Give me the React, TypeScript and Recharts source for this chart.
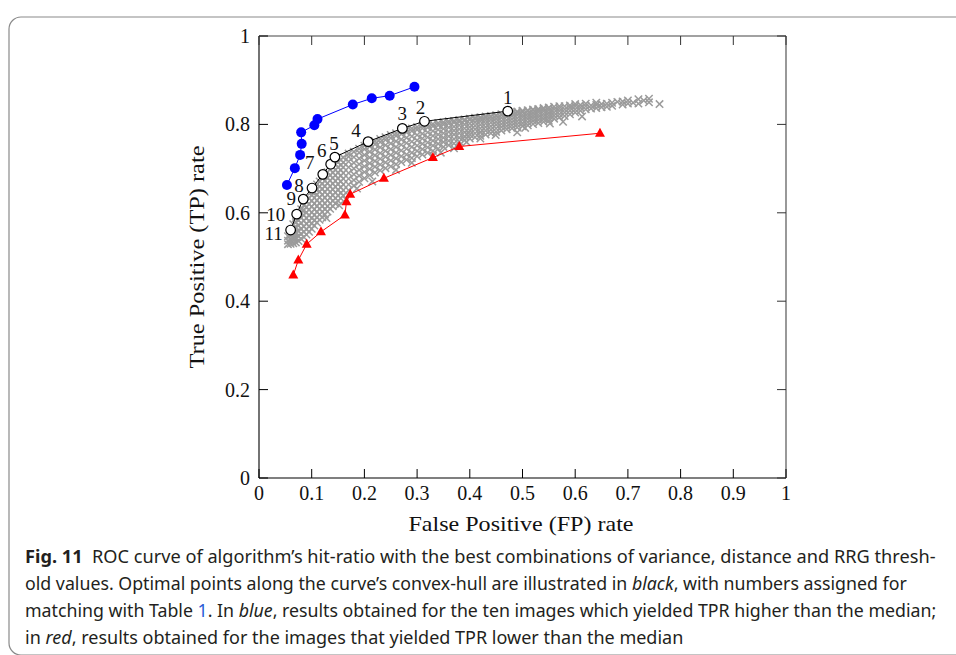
import React, { useLayoutEffect, useRef, useState } from 'react';
import { ScatterChart, Scatter, XAxis, YAxis } from 'recharts';

const xTicks = [0, 0.1, 0.2, 0.3, 0.4, 0.5, 0.6, 0.7, 0.8, 0.9, 1];
const xTickLabels = ['0', '0.1', '0.2', '0.3', '0.4', '0.5', '0.6', '0.7', '0.8', '0.9', '1'];
const yTicks = [0, 0.2, 0.4, 0.6, 0.8, 1];
const yTickLabels = ['0', '0.2', '0.4', '0.6', '0.8', '1'];

const xTitle = 'False Positive (FP) rate';
const yTitle = 'True Positive (TP) rate';

// blue: images with TPR higher than median
const bluePoints = [
  { x: 0.053, y: 0.663 },
  { x: 0.068, y: 0.701 },
  { x: 0.078, y: 0.731 },
  { x: 0.081, y: 0.756 },
  { x: 0.080, y: 0.782 },
  { x: 0.105, y: 0.798 },
  { x: 0.111, y: 0.812 },
  { x: 0.178, y: 0.845 },
  { x: 0.214, y: 0.859 },
  { x: 0.248, y: 0.865 },
  { x: 0.295, y: 0.885 },
];

// black: optimal points along convex hull
const blackPoints = [
  { x: 0.060, y: 0.561, label: '11' },
  { x: 0.0715, y: 0.597, label: '10' },
  { x: 0.084, y: 0.631, label: '9' },
  { x: 0.1006, y: 0.656, label: '8' },
  { x: 0.121, y: 0.687, label: '7' },
  { x: 0.136, y: 0.710, label: '6' },
  { x: 0.144, y: 0.726, label: '5' },
  { x: 0.207, y: 0.761, label: '4' },
  { x: 0.272, y: 0.791, label: '3' },
  { x: 0.314, y: 0.807, label: '2' },
  { x: 0.472, y: 0.830, label: '1' },
];

// red: images with TPR lower than median
const redPoints = [
  { x: 0.065, y: 0.459 },
  { x: 0.0746, y: 0.493 },
  { x: 0.0905, y: 0.529 },
  { x: 0.1176, y: 0.557 },
  { x: 0.163, y: 0.595 },
  { x: 0.166, y: 0.625 },
  { x: 0.173, y: 0.642 },
  { x: 0.237, y: 0.678 },
  { x: 0.330, y: 0.725 },
  { x: 0.380, y: 0.750 },
  { x: 0.647, y: 0.780 },
];

// gray: all parameter combinations, listed as columns [FPR, [TPR...]]
const grayColumns: [number, number[]][] = [
  [0.055, [0.529, 0.537, 0.547]],
  [0.060, [0.530, 0.539, 0.550, 0.560]],
  [0.065, [0.531, 0.542, 0.553, 0.564, 0.574]],
  [0.070, [0.533, 0.544, 0.556, 0.567, 0.579, 0.588]],
  [0.075, [0.536, 0.547, 0.559, 0.571, 0.583, 0.596]],
  [0.080, [0.541, 0.552, 0.564, 0.577, 0.589, 0.600, 0.608]],
  [0.085, [0.545, 0.557, 0.569, 0.582, 0.595, 0.606, 0.617]],
  [0.090, [0.551, 0.563, 0.575, 0.588, 0.601, 0.613, 0.626]],
  [0.095, [0.557, 0.569, 0.581, 0.594, 0.607, 0.620, 0.633]],
  [0.100, [0.564, 0.576, 0.588, 0.601, 0.614, 0.627, 0.640, 0.648]],
  [0.105, [0.571, 0.583, 0.595, 0.608, 0.621, 0.634, 0.646, 0.656]],
  [0.110, [0.578, 0.590, 0.602, 0.615, 0.628, 0.641, 0.653, 0.664]],
  [0.115, [0.584, 0.596, 0.609, 0.622, 0.635, 0.648, 0.660, 0.671]],
  [0.120, [0.590, 0.602, 0.615, 0.628, 0.641, 0.654, 0.666, 0.678]],
  [0.125, [0.596, 0.608, 0.621, 0.634, 0.647, 0.660, 0.672, 0.684]],
  [0.130, [0.603, 0.615, 0.628, 0.641, 0.654, 0.667, 0.679, 0.692]],
  [0.135, [0.609, 0.621, 0.634, 0.647, 0.660, 0.673, 0.685, 0.698]],
  [0.140, [0.615, 0.627, 0.640, 0.653, 0.666, 0.679, 0.691, 0.704]],
  [0.145, [0.621, 0.633, 0.646, 0.659, 0.672, 0.685, 0.697, 0.710]],
  [0.150, [0.627, 0.639, 0.652, 0.665, 0.678, 0.691, 0.703, 0.715]],
  [0.155, [0.633, 0.645, 0.658, 0.671, 0.684, 0.697, 0.708, 0.720]],
  [0.160, [0.639, 0.651, 0.664, 0.677, 0.690, 0.703, 0.714, 0.725]],
  [0.170, [0.651, 0.664, 0.677, 0.690, 0.703, 0.716, 0.727, 0.734]],
  [0.180, [0.661, 0.674, 0.687, 0.700, 0.713, 0.726, 0.738]],
  [0.190, [0.670, 0.684, 0.697, 0.710, 0.723, 0.736, 0.745]],
  [0.200, [0.678, 0.692, 0.705, 0.718, 0.731, 0.744, 0.752]],
  [0.210, [0.685, 0.699, 0.712, 0.725, 0.738, 0.750, 0.757]],
  [0.220, [0.691, 0.704, 0.717, 0.730, 0.743, 0.755, 0.762]],
  [0.230, [0.696, 0.709, 0.722, 0.735, 0.748, 0.760, 0.767]],
  [0.240, [0.701, 0.714, 0.727, 0.740, 0.753, 0.765, 0.771]],
  [0.250, [0.705, 0.718, 0.731, 0.744, 0.757, 0.769, 0.776]],
  [0.260, [0.710, 0.723, 0.736, 0.749, 0.762, 0.774, 0.780]],
  [0.270, [0.715, 0.728, 0.741, 0.754, 0.766, 0.778, 0.784]],
  [0.280, [0.720, 0.732, 0.745, 0.758, 0.770, 0.782, 0.788]],
  [0.290, [0.724, 0.736, 0.749, 0.761, 0.773, 0.785, 0.791]],
  [0.300, [0.728, 0.740, 0.752, 0.764, 0.776, 0.788, 0.794]],
  [0.310, [0.732, 0.744, 0.756, 0.768, 0.779, 0.791, 0.797]],
  [0.320, [0.736, 0.748, 0.759, 0.771, 0.782, 0.793, 0.799]],
  [0.330, [0.740, 0.752, 0.763, 0.774, 0.785, 0.796, 0.801]],
  [0.340, [0.745, 0.756, 0.767, 0.777, 0.788, 0.798, 0.803]],
  [0.350, [0.749, 0.760, 0.770, 0.780, 0.790, 0.800, 0.805]],
  [0.360, [0.753, 0.763, 0.773, 0.783, 0.793, 0.802, 0.807]],
  [0.370, [0.757, 0.767, 0.777, 0.786, 0.795, 0.804, 0.808]],
  [0.380, [0.761, 0.770, 0.780, 0.789, 0.798, 0.806, 0.810]],
  [0.390, [0.764, 0.773, 0.782, 0.791, 0.800, 0.808, 0.811]],
  [0.400, [0.768, 0.777, 0.786, 0.794, 0.802, 0.810, 0.813]],
  [0.410, [0.771, 0.780, 0.789, 0.797, 0.805, 0.812, 0.815]],
  [0.420, [0.774, 0.783, 0.791, 0.799, 0.807, 0.813, 0.816]],
  [0.430, [0.777, 0.786, 0.794, 0.802, 0.809, 0.815, 0.818]],
  [0.440, [0.780, 0.788, 0.796, 0.804, 0.811, 0.817, 0.819]],
  [0.450, [0.783, 0.791, 0.799, 0.806, 0.813, 0.819, 0.821]],
  [0.460, [0.786, 0.794, 0.801, 0.808, 0.815, 0.821, 0.823]],
  [0.470, [0.789, 0.796, 0.803, 0.810, 0.817, 0.823, 0.825]],
  [0.480, [0.791, 0.798, 0.805, 0.812, 0.819, 0.825, 0.827]],
  [0.490, [0.793, 0.800, 0.807, 0.814, 0.821, 0.827, 0.829]],
  [0.500, [0.796, 0.803, 0.810, 0.816, 0.822, 0.828, 0.831]],
  [0.510, [0.798, 0.805, 0.812, 0.818, 0.824, 0.830, 0.832]],
  [0.520, [0.801, 0.808, 0.814, 0.820, 0.826, 0.832, 0.834]],
  [0.530, [0.803, 0.810, 0.816, 0.822, 0.828, 0.833, 0.835]],
  [0.540, [0.806, 0.812, 0.818, 0.824, 0.830, 0.835, 0.837]],
  [0.550, [0.808, 0.814, 0.820, 0.826, 0.832, 0.837, 0.838]],
  [0.560, [0.813, 0.820, 0.827, 0.834, 0.840]],
  [0.570, [0.816, 0.823, 0.830, 0.836, 0.841]],
  [0.580, [0.819, 0.827, 0.834, 0.841]],
  [0.590, [0.823, 0.831, 0.838, 0.843]],
  [0.600, [0.827, 0.834, 0.841, 0.846]],
  [0.610, [0.831, 0.838, 0.844]],
  [0.620, [0.834, 0.841, 0.847]],
  [0.630, [0.836, 0.843]],
  [0.640, [0.837, 0.844, 0.849]],
  [0.650, [0.839, 0.846]],
  [0.660, [0.840, 0.847]],
  [0.670, [0.842, 0.849]],
  [0.680, [0.851]],
  [0.690, [0.845, 0.852]],
  [0.700, [0.847, 0.854]],
  [0.710, [0.849]],
  [0.720, [0.847, 0.857]],
  [0.730, [0.854]],
  [0.740, [0.858, 0.850]],
  [0.760, [0.846]],
];

const grayOutliers: [number, number][] = [
  [0.128, 0.588], [0.152, 0.617], [0.165, 0.630], [0.186, 0.655],
  [0.215, 0.671], [0.260, 0.697], [0.290, 0.713], [0.330, 0.729],
  [0.345, 0.736], [0.370, 0.746], [0.394, 0.760], [0.420, 0.768],
  [0.449, 0.776], [0.490, 0.782], [0.505, 0.792], [0.552, 0.802],
  [0.577, 0.806], [0.613, 0.818], [0.395, 0.777], [0.420, 0.782],
];

const grayData = grayColumns
  .flatMap(([x, ys]) => ys.map((y) => ({ x, y })))
  .concat(grayOutliers.map(([x, y]) => ({ x, y })));

const labelOffset: Record<string, [number, number]> = {
  '1': [0, -14], '2': [-4, -14], '3': [0, -15], '4': [-12, -12], '5': [-1, -14],
  '6': [-9, -14], '7': [-13, -12], '8': [-13, -3], '9': [-12, -1], '10': [-21, 0], '11': [-17, 3],
};

const SERIF = '"Liberation Serif", "Times New Roman", serif';
const SANS = '"Noto Sans", "Open Sans", sans-serif';

const CrossShape = (p: any) => {
  const { cx, cy } = p;
  if (cx == null || cy == null) return <g />;
  const s = 3.7;
  return (
    <g stroke="#9b9b9b" strokeWidth={1.5}>
      <line x1={cx - s} y1={cy - s} x2={cx + s} y2={cy + s} />
      <line x1={cx - s} y1={cy + s} x2={cx + s} y2={cy - s} />
    </g>
  );
};

const BlueDot = (p: any) => {
  if (p.cx == null) return <g />;
  return <circle cx={p.cx} cy={p.cy} r={5} fill="#0000ff" />;
};

const RedTri = (p: any) => {
  if (p.cx == null) return <g />;
  const { cx, cy } = p;
  return <path d={`M${cx},${cy - 5.5}L${cx + 5},${cy + 3.5}L${cx - 5},${cy + 3.5}Z`} fill="#ff0000" />;
};

const OpenDot = (p: any) => {
  if (p.cx == null) return <g />;
  const lab = p.payload?.label ?? '';
  const off = labelOffset[lab] || [0, -14];
  return (
    <g>
      <circle cx={p.cx} cy={p.cy} r={4.8} fill="#ffffff" stroke="#000" strokeWidth={1.2} />
      <text x={p.cx + off[0]} y={p.cy + off[1] + 7} textAnchor="middle" fontFamily={SERIF} fontSize={19} fill="#111">
        {lab}
      </text>
    </g>
  );
};

const BottomTick = (p: any) => {
  const { x, y, payload } = p;
  const i = xTicks.indexOf(payload.value);
  return (
    <g>
      <line x1={x} y1={y} x2={x} y2={y - 9} stroke="#000" strokeWidth={1} />
      <text x={x} y={y + 22} textAnchor="middle" fontFamily={SERIF} fontSize={20} fill="#111">
        {xTickLabels[i]}
      </text>
    </g>
  );
};

const LeftTick = (p: any) => {
  const { x, y, payload } = p;
  const i = yTicks.indexOf(payload.value);
  return (
    <g>
      <line x1={x} y1={y} x2={x + 9} y2={y} stroke="#000" strokeWidth={1} />
      <text x={x - 9} y={y + 7} textAnchor="end" fontFamily={SERIF} fontSize={20} fill="#111">
        {yTickLabels[i]}
      </text>
    </g>
  );
};

const TopTick = (p: any) => {
  const { x, y } = p;
  return <line x1={x} y1={y} x2={x} y2={y + 9} stroke="#333" strokeWidth={1} />;
};

const RightTick = (p: any) => {
  const { x, y } = p;
  return <line x1={x} y1={y} x2={x - 9} y2={y} stroke="#333" strokeWidth={1} />;
};

const CaptionLine = ({ width, top, children }: { width: number; top: number; children: React.ReactNode }) => {
  const ref = useRef<HTMLDivElement>(null);
  const [k, setK] = useState(1);
  useLayoutEffect(() => {
    const el = ref.current;
    if (el && el.offsetWidth > 0) setK(width / el.offsetWidth);
  }, [width]);
  return (
    <div
      ref={ref}
      style={{
        position: 'absolute', left: 25, top, width: 'max-content', whiteSpace: 'nowrap',
        fontFamily: SANS, fontSize: 18, lineHeight: '20px', color: '#231f20',
        transform: `scaleX(${k})`, transformOrigin: '0 0',
      }}
    >
      {children}
    </div>
  );
};

export default function App() {
  return (
    <div style={{ position: 'absolute', left: 0, top: 0, width: 956, height: 655, background: '#fff', overflow: 'hidden' }}>
      <ScatterChart width={956} height={655} margin={{ top: 35, right: 169, bottom: 147, left: 199 }}>
        <XAxis
          xAxisId="bottom" orientation="bottom" type="number" dataKey="x" domain={[0, 1]} ticks={xTicks} interval={0}
          height={30} tickSize={0} tickMargin={0} tickLine={false}
          axisLine={{ stroke: '#000', strokeWidth: 1.1 }} tick={<BottomTick />} allowDataOverflow
        />
        <YAxis
          yAxisId="left" orientation="left" type="number" dataKey="y" domain={[0, 1]} ticks={yTicks} interval={0}
          width={60} tickSize={0} tickMargin={0} tickLine={false}
          axisLine={{ stroke: '#000', strokeWidth: 1.1 }} tick={<LeftTick />} allowDataOverflow
        />
        <XAxis
          xAxisId="top" orientation="top" type="number" dataKey="x" domain={[0, 1]} ticks={xTicks} interval={0}
          height={1} tickSize={0} tickMargin={0} tickLine={false}
          axisLine={{ stroke: '#444', strokeWidth: 1.1 }} tick={<TopTick />} allowDataOverflow
        />
        <YAxis
          yAxisId="right" orientation="right" type="number" dataKey="y" domain={[0, 1]} ticks={yTicks} interval={0}
          width={1} tickSize={0} tickMargin={0} tickLine={false}
          axisLine={{ stroke: '#444', strokeWidth: 1.1 }} tick={<RightTick />} allowDataOverflow
        />
        <Scatter xAxisId="top" yAxisId="right" data={[]} isAnimationActive={false} />
        <Scatter xAxisId="bottom" yAxisId="left" data={grayData} shape={<CrossShape />} isAnimationActive={false} />
        <Scatter
          xAxisId="bottom" yAxisId="left" data={redPoints} shape={<RedTri />} isAnimationActive={false}
          line={{ stroke: '#ff0000', strokeWidth: 1 }} lineJointType="linear"
        />
        <Scatter
          xAxisId="bottom" yAxisId="left" data={blackPoints} shape={<OpenDot />} isAnimationActive={false}
          line={{ stroke: '#000', strokeWidth: 1 }} lineJointType="linear"
        />
        <Scatter
          xAxisId="bottom" yAxisId="left" data={bluePoints} shape={<BlueDot />} isAnimationActive={false}
          line={{ stroke: '#0000ff', strokeWidth: 1 }} lineJointType="linear"
        />
      </ScatterChart>
      <svg width={956} height={655} style={{ position: 'absolute', left: 0, top: 0, pointerEvents: 'none' }}>
        <path d="M 970 17 H 21 A 12 12 0 0 0 9 29 V 643 A 12 12 0 0 0 21 655 H 970" fill="none" stroke="#8a8a8a" strokeWidth={1.2} />
        <text x={521} y={531} textAnchor="middle" fontFamily={SERIF} fontSize={21} fill="#111" textLength={225} lengthAdjust="spacingAndGlyphs">
          {xTitle}
        </text>
        <text
          x={0} y={0} transform="translate(204,257) rotate(-90)" textAnchor="middle" fontFamily={SERIF}
          fontSize={21} fill="#111" textLength={223} lengthAdjust="spacingAndGlyphs"
        >
          {yTitle}
        </text>
      </svg>
      <CaptionLine width={911} top={546}>
        <b>Fig. 11</b>{'\u00a0\u00a0'}ROC curve of algorithm’s hit-ratio with the best combinations of variance, distance and RRG thresh-
      </CaptionLine>
      <CaptionLine width={882} top={573}>
        old values. Optimal points along the curve’s convex-hull are illustrated in <i>black</i>, with numbers assigned for
      </CaptionLine>
      <CaptionLine width={911} top={600}>
        matching with Table <span style={{ color: '#2a5bd7' }}>1</span>. In <i>blue</i>, results obtained for the ten images which yielded TPR higher than the median;
      </CaptionLine>
      <CaptionLine width={658} top={627}>
        in <i>red</i>, results obtained for the images that yielded TPR lower than the median
      </CaptionLine>
    </div>
  );
}
